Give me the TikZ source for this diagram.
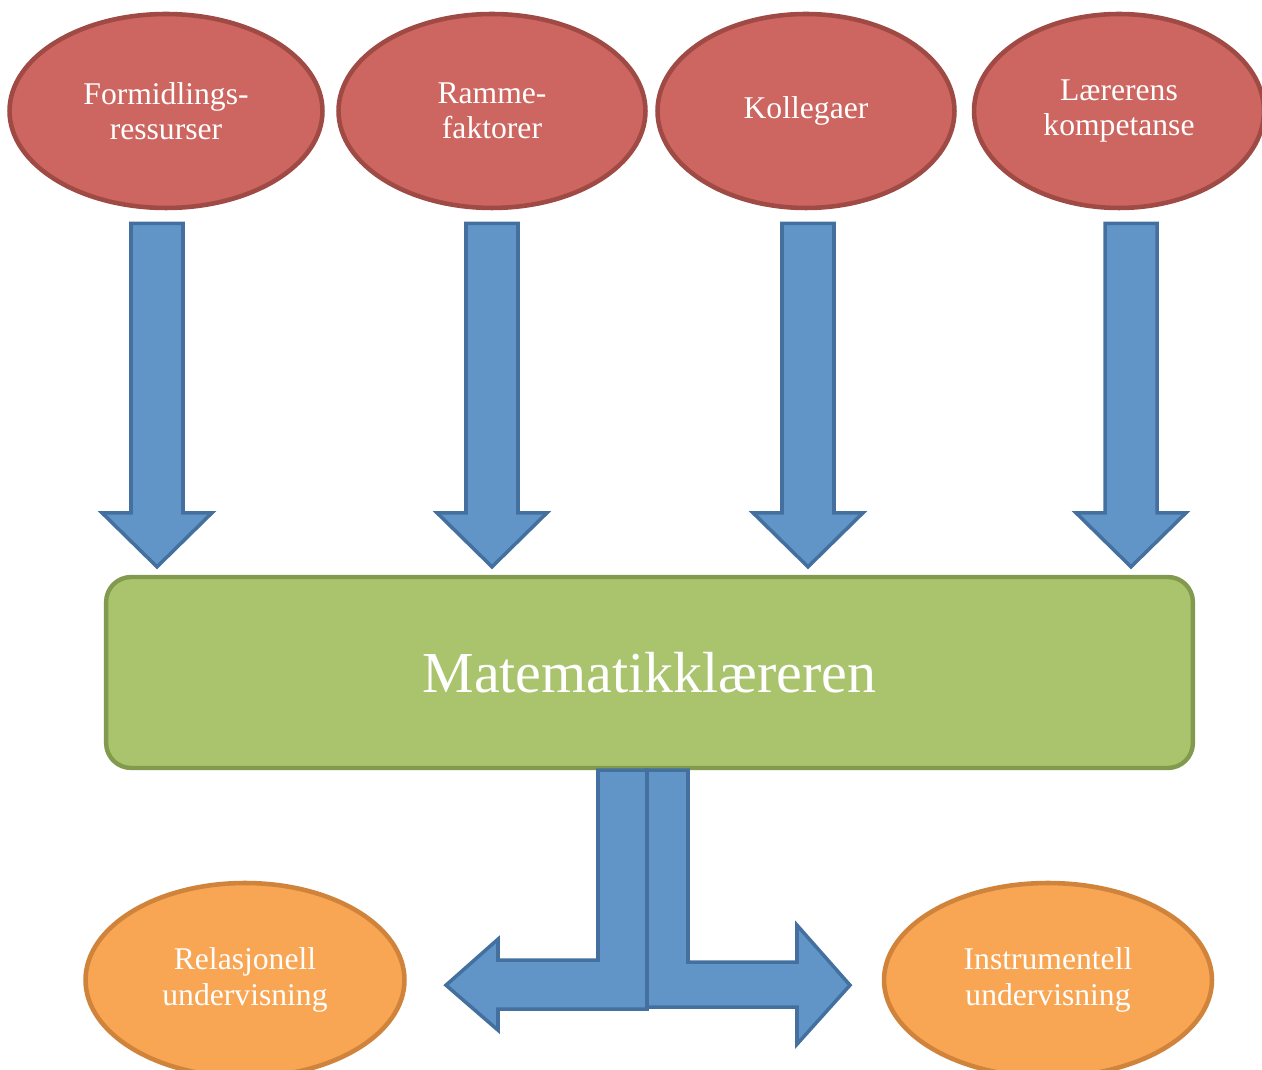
\documentclass[tikz,border=0pt]{standalone}
\usepackage{fontspec}
\setmainfont{Liberation Serif}
\usepackage{xcolor}
\usetikzlibrary{shapes.geometric,positioning,calc}
\definecolor{factfill}{HTML}{CD6660}
\definecolor{factdraw}{HTML}{A04A45}
\definecolor{arrfill}{HTML}{6195C8}
\definecolor{arrdraw}{HTML}{44709F}
\definecolor{teachfill}{HTML}{AAC46E}
\definecolor{teachdraw}{HTML}{819A4E}
\definecolor{outfill}{HTML}{F8A654}
\definecolor{outdraw}{HTML}{D0833A}
\tikzset{
  factor/.style={ellipse,draw=factdraw,fill=factfill,line width=2.6pt,
                 inner sep=0pt,minimum height=3.88cm,align=center,
                 text=white,font=\fontsize{18}{20}\selectfont},
  outcome/.style={factor,draw=outdraw,fill=outfill},
  teacher/.style={draw=teachdraw,fill=teachfill,line width=2.5pt,
                  rounded corners=0.5cm,minimum width=21.74cm,minimum height=3.82cm,
                  text=white,font=\fontsize{33}{38}\selectfont},
  blockarr/.style={draw=arrdraw,fill=arrfill,line width=2pt,line join=miter}
}
% fat arrow pointing down, from shaft top #1 to tip #2
\newcommand{\blockdown}[2]{%
  \draw[blockarr] ($(#1)+(-26,0)$) -- ($(#2)+(-26,-54)$) -- ($(#2)+(-55,-54)$)
    -- (#2) -- ($(#2)+(55,-54)$) -- ($(#2)+(26,-54)$) -- ($(#1)+(26,0)$) -- cycle;}

\begin{document}
\begin{tikzpicture}[x=0.02cm,y=-0.02cm]
  \useasboundingbox (0,0) rectangle (1262,1070);
  % factors
  \node[factor,minimum width=6.26cm] (f1) at (166,111) {Formidlings-\\ressurser};
  \node[factor,minimum width=6.14cm] (f2) at (492,111) {Ramme-\\faktorer};
  \node[factor,minimum width=5.94cm] (f3) at (806,111) {Kollegaer};
  \node[factor,minimum width=5.80cm] (f4) at (1119,111) {Lærerens\\kompetanse};
  % the teacher
  \node[teacher] (box) at (649.5,672.5) {Matematikklæreren};
  % outcomes
  \node[outcome,minimum width=6.38cm] (r1) at (245,980) {Relasjonell\\undervisning};
  \node[outcome,minimum width=6.56cm] (r2) at (1048,980) {Instrumentell\\undervisning};

  \foreach \f/\dx in {f1/-9,f2/0,f3/2,f4/12}{
    \coordinate (s\f) at ($(\f.south)+(\dx,13)$);
    \coordinate (t\f) at ($(s\f |- box.north)+(0,-8)$);
    \blockdown{s\f}{t\f}
  }

  % split arrow below the box
  \coordinate (split) at ($(box.south)+(-2.5,0)$);
  \draw[blockarr] ($(split)+(41,0)$) -- ++(0,192) -- ++(109,0) -- ++(0,-37)
    -- ++(53,60) coordinate (rtip) -- ++(-53,59) -- ++(0,-37) -- ++(-150,0)
    -- (split) -- cycle;
  \draw[blockarr] ($(split)+(-49,0)$) -- ++(0,190) -- ++(-100,0) -- ++(0,-21)
    -- ++(-52,46) coordinate (ltip) -- ++(52,45) -- ++(0,-21) -- ++(149,0)
    -- (split) -- cycle;
\end{tikzpicture}
\end{document}
